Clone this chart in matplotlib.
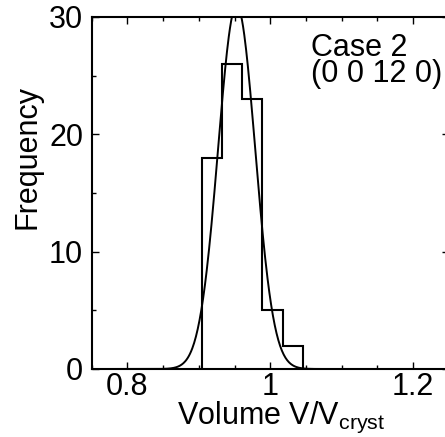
import numpy as np
import matplotlib
matplotlib.use("Agg")
import matplotlib.pyplot as plt
from matplotlib.ticker import MultipleLocator, FixedLocator

plt.rcParams['font.family'] = ['Liberation Sans', 'DejaVu Sans']
plt.rcParams['mathtext.fontset'] = 'custom'
plt.rcParams['mathtext.rm'] = 'Liberation Sans'
plt.rcParams['mathtext.it'] = 'Liberation Sans:italic'

# histogram of cell volumes (bin edges and counts)
bin_edges = [0.904, 0.9325, 0.961, 0.989, 1.0175, 1.046]
counts = [18, 26, 23, 5, 2]

# gaussian fit parameters
fit_mean = 0.953
fit_sigma = 0.0259
fit_amp = 31.0

x_ticks = [0.8, 1.0, 1.2]
x_ticklabels = ["0.8", "1", "1.2"]
y_ticks = [0, 10, 20, 30]

fig = plt.figure(figsize=(4.45, 4.37), dpi=100)
ax = fig.add_axes([91.5 / 445, 68 / 437, 357.5 / 445, 352 / 437])

ax.stairs(counts, bin_edges, baseline=0, fill=False, color='black', lw=1.5)

xs = np.linspace(0.75, 1.25, 600)
ax.plot(xs, fit_amp * np.exp(-(xs - fit_mean) ** 2 / (2 * fit_sigma ** 2)),
        color='black', lw=1.4)

ax.set_xlim(0.75, 1.25)
ax.set_ylim(0, 30)
ax.xaxis.set_major_locator(FixedLocator(x_ticks))
ax.set_xticklabels(x_ticklabels)
ax.xaxis.set_minor_locator(MultipleLocator(0.05))
ax.yaxis.set_major_locator(FixedLocator(y_ticks))
ax.yaxis.set_minor_locator(MultipleLocator(5))

ax.tick_params(which='both', direction='in', top=True, right=True, width=1.0)
ax.tick_params(which='major', length=5)
ax.tick_params(which='minor', length=3)
ax.tick_params(axis='x', labelsize=22, pad=2)
ax.tick_params(axis='y', labelsize=22, pad=6)
for s in ax.spines.values():
    s.set_linewidth(1.5)

ax.set_xlabel("Volume V/V$_{\\mathrm{cryst}}$", fontsize=22)
ax.xaxis.set_label_coords(0.531, -0.088)
ax.set_ylabel("Frequency", fontsize=22)
ax.yaxis.set_label_coords(-0.136, 0.602)

ax.text(0.615, 0.955, "Case 2\n(0 0 12 0)", transform=ax.transAxes,
        fontsize=22, va='top', ha='left', linespacing=0.82)

fig.savefig("out.png", dpi=100)
